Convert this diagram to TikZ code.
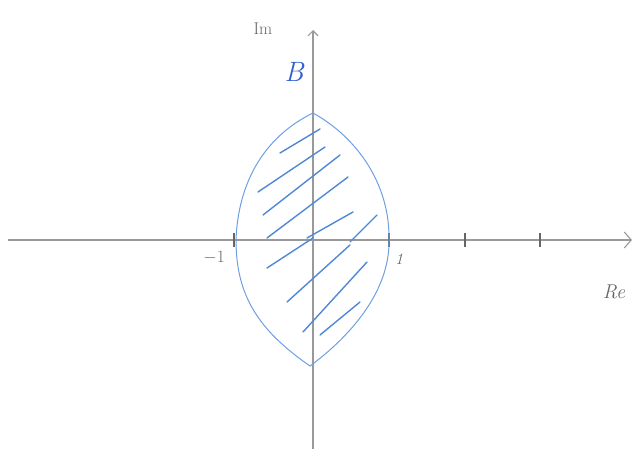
\documentclass[tikz,border=0pt]{standalone}
\usetikzlibrary{arrows.meta}
\begin{document}
\begin{tikzpicture}[x=1pt,y=-1pt,
  axis/.style={draw=black!40, line width=1.1pt},
  tick/.style={draw=black!60, line width=1.8pt},
  lens/.style={draw={rgb,255:red,110;green,160;blue,225}, line width=1pt},
  hatch/.style={draw={rgb,255:red,80;green,135;blue,215}, line width=1.4pt, line cap=round},
  lbl/.style={text=black!60, font=\fontsize{16}{18}\selectfont\itshape}]
\useasboundingbox (0,0) rectangle (642,449);
% axes
\coordinate (xs) at (8,240);
\coordinate (xe) at (632,240);
\coordinate (ys) at (313,449);
\coordinate (ye) at (313,30);
\draw[axis, -{Straight Barb[length=7pt,width=16pt]}] (xs) -- (xe);
\draw[axis, -{Straight Barb[length=5pt,width=10pt]}] (ys) -- (ye);
% ticks
\foreach \x/\n in {234/tm1,389/t1,465/t2,540/t3}{
  \coordinate (\n a) at (\x,233); \coordinate (\n b) at (\x,247);
  \draw[tick] (\n a) -- (\n b);}
% lens
\coordinate (top) at (313,113);
\coordinate (lft) at (236,240);
\coordinate (bot) at (310,366);
\coordinate (rgt) at (389,240);
\draw[lens] (top) .. controls (262,138) and (238,185) .. (lft)
  .. controls (236,295) and (258,330) .. (bot)
  .. controls (352,335) and (390,290) .. (rgt)
  .. controls (390,185) and (358,138) .. (top);
% hatching
\foreach \a/\b/\c/\d in {280/153/320/129, 258/192/325/147, 263/215/340/155,
  267/238/348/177, 307/238/353/212, 350/242/377/215, 267/268/313/238,
  287/302/350/245, 303/332/367/262, 320/335/360/302}{
  \coordinate (ha) at (\a,\b); \coordinate (hb) at (\c,\d);
  \draw[hatch] (ha) -- (hb);}
% labels
\node[lbl, font=\fontsize{17}{18}\selectfont] (im) at (263,29) {Im};
\node[text={rgb,255:red,50;green,95;blue,210}, font=\fontsize{28}{30}\selectfont\itshape] (B) at (294,72) {B};
\node[lbl] (m1) at (214,258) {$-1$};
\node[lbl] (one) at (399,259) {1};
\node[lbl, font=\fontsize{20}{22}\selectfont\itshape] (re) at (614,292) {Re};
\end{tikzpicture}
\end{document}
